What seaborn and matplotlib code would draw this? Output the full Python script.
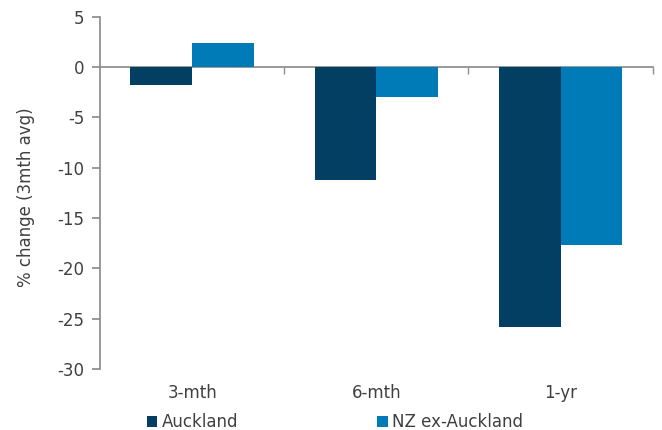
import matplotlib
matplotlib.use("Agg")
import matplotlib.pyplot as plt
import seaborn as sns
import pandas as pd
from matplotlib.patches import Patch

categories = ["3-mth", "6-mth", "1-yr"]
auckland = [-1.8, -11.2, -25.8]
nz_ex_auckland = [2.4, -3.0, -17.7]
series_names = ["Auckland", "NZ ex-Auckland"]
y_ticks = [5, 0, -5, -10, -15, -20, -25, -30]
colors = ["#023F63", "#007BB8"]

df = pd.DataFrame({
    "period": categories * 2,
    "value": auckland + nz_ex_auckland,
    "series": [series_names[0]] * 3 + [series_names[1]] * 3,
})

sns.set_theme(style="white")
plt.rcParams["font.family"] = ["DejaVu Sans"]
text_color = "#404040"
line_color = "#8C8C8C"
fs = 12

fig = plt.figure(figsize=(6.62, 4.30), dpi=100)
ax = fig.add_axes([0.151, 0.142, 0.835, 0.819])

sns.barplot(data=df, x="period", y="value", hue="series", order=categories,
            hue_order=series_names, palette=colors, width=0.67,
            saturation=1, ax=ax, legend=False, linewidth=0)

ax.set_ylim(-30, 5)
ax.set_yticks(y_ticks)
ax.set_yticklabels([str(t) for t in y_ticks])
ax.set_xlim(-0.5, 2.5)
ax.set_ylabel("% change (3mth avg)", fontsize=fs, color=text_color)
ax.yaxis.set_label_coords(-0.118, 0.487)
ax.set_xlabel("")

for s in ["top", "right"]:
    ax.spines[s].set_visible(False)
ax.spines["left"].set_color(line_color)
ax.spines["bottom"].set_color(line_color)
ax.spines["bottom"].set_position(("data", 0))
ax.spines["bottom"].set_zorder(0)

ax.set_xticks([0, 1, 2])
ax.set_xticklabels([])
ax.tick_params(axis="x", which="major", length=0)
ax.set_xticks([0.5, 1.5, 2.5], minor=True)
ax.tick_params(axis="x", which="minor", length=5, color=line_color, direction="out", bottom=True)
ax.tick_params(axis="y", length=6, color=line_color, direction="out", left=True,
               labelsize=fs, labelcolor=text_color, pad=5)

sec = ax.secondary_xaxis("bottom")
sec.set_xticks([0, 1, 2])
sec.set_xticklabels(categories)
sec.tick_params(length=0, labelsize=fs, labelcolor=text_color, pad=11)
sec.spines["bottom"].set_visible(False)

handles = [Patch(facecolor=c, edgecolor="none") for c in colors]
fig.legend(handles, series_names, loc="center", bbox_to_anchor=(0.506, 0.018),
           ncol=2, frameon=False, fontsize=fs, labelcolor=text_color,
           handlelength=0.65, handleheight=0.65, handletextpad=0.25,
           columnspacing=8.35)

fig.savefig("out.png", dpi=100)
